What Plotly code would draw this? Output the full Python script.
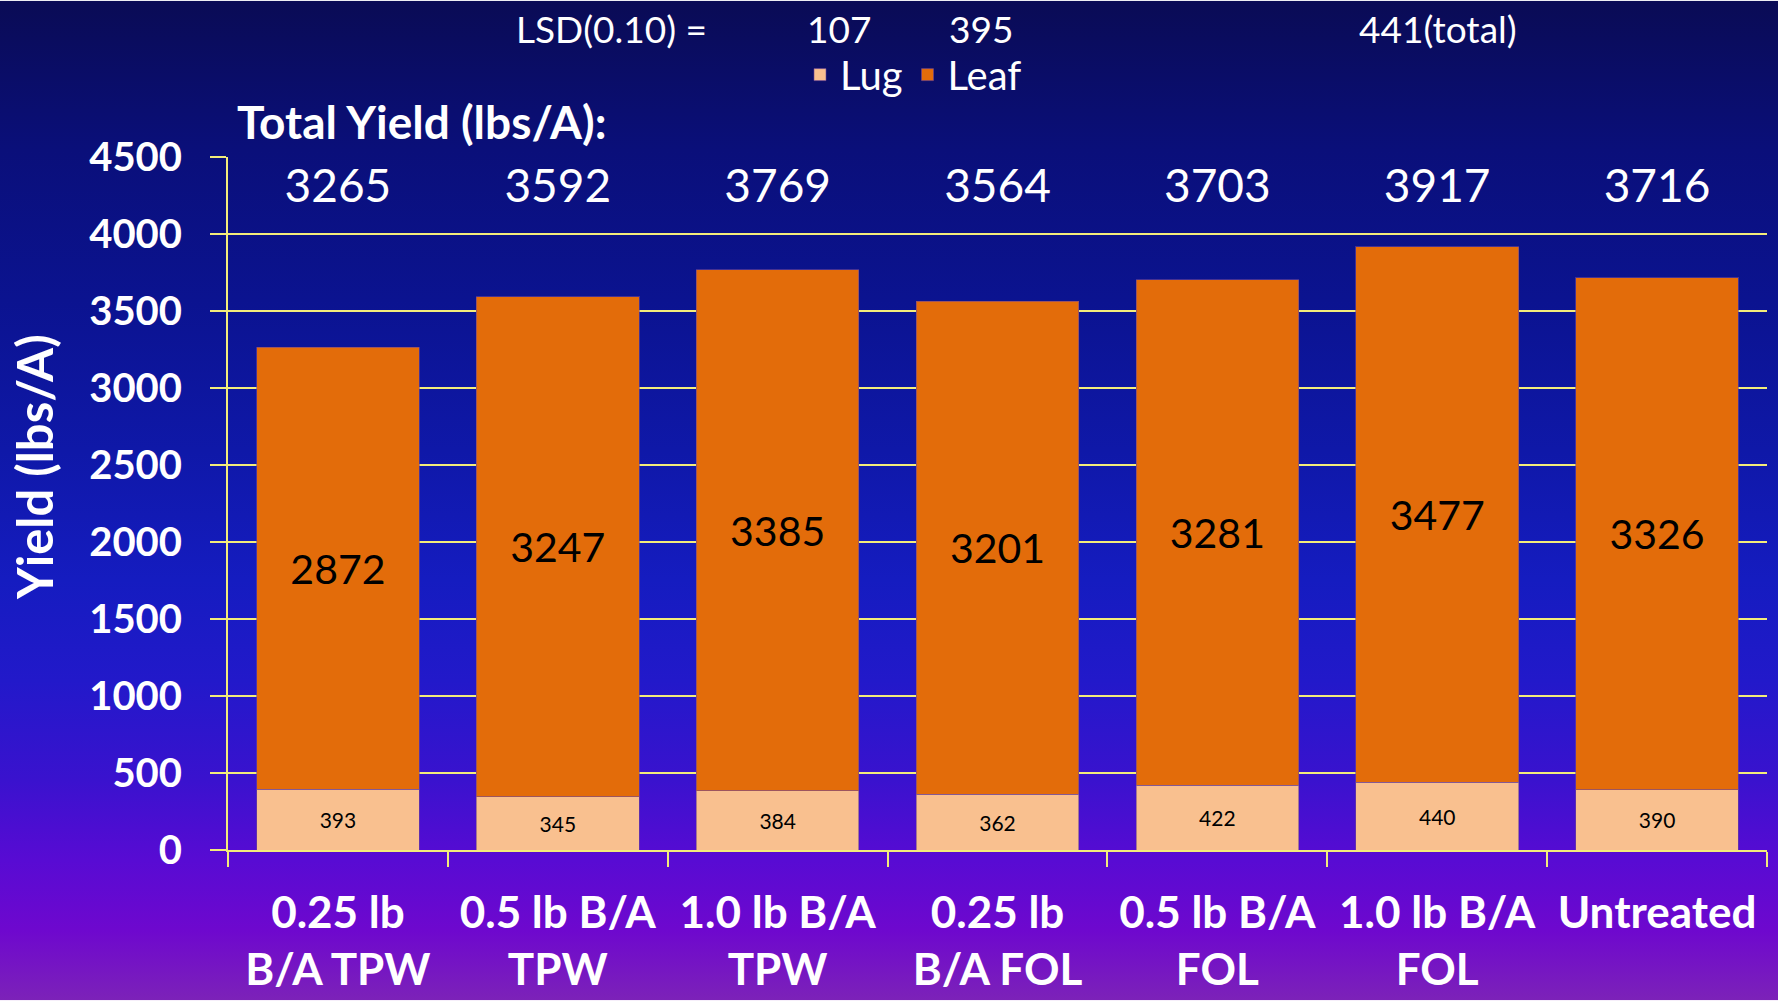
import base64
import plotly.graph_objects as go

# ---------------- data ----------------
categories = ["0.25 lb<br>B/A TPW", "0.5 lb B/A<br>TPW", "1.0 lb B/A<br>TPW",
              "0.25 lb<br>B/A FOL", "0.5 lb B/A<br>FOL", "1.0 lb B/A<br>FOL", "Untreated"]
lug = [393, 345, 384, 362, 422, 440, 390]
leaf = [2872, 3247, 3385, 3201, 3281, 3477, 3326]
total = [3265, 3592, 3769, 3564, 3703, 3917, 3716]
lsd_labels = ["LSD(0.10) =", "107", "395", "441(total)"]
y_ticks = [0, 500, 1000, 1500, 2000, 2500, 3000, 3500, 4000, 4500]

# ---------------- geometry ----------------
W, H = 1778, 1001
L, R, T, B = 228, 11, 156.5, 150.5
pw, ph = W - L - R, H - T - B
YMAX = 4500

FONT = "Lato"
WHITE = "#FFFFFF"
GRID = "#F3EC7A"
LUG_C = "#F9C08F"
LEAF_C = "#E36C0A"

def px_to_py(y):  # page pixel -> paper y
    return (H - B - y) / ph

def px_to_px(x):  # page pixel -> paper x
    return (x - L) / pw

def px_to_data(y):
    return (H - B - y) / ph * YMAX

# gradient background as inline svg
stops = [(0.00, "#0A0B55"), (0.15, "#0A0F7A"), (0.30, "#0B1390"), (0.45, "#0F18A8"),
         (0.58, "#151CC0"), (0.68, "#2219CA"), (0.78, "#3A12CE"), (0.86, "#580BD3"),
         (0.93, "#6E08CE"), (1.00, "#7C22B8")]
stop_xml = "".join(f"<stop offset='{o}' stop-color='{c}'/>" for o, c in stops)
svg = (f"<svg xmlns='http://www.w3.org/2000/svg' width='{W}' height='{H}' "
       f"viewBox='0 0 {W} {H}' preserveAspectRatio='none'><defs>"
       f"<linearGradient id='g' x1='0' y1='0' x2='0' y2='1'>{stop_xml}</linearGradient>"
       f"</defs><rect x='0' y='0' width='{W}' height='{H}' fill='url(#g)'/></svg>")
src = "data:image/svg+xml;base64," + base64.b64encode(svg.encode()).decode()

fig = go.Figure()

fig.add_trace(go.Bar(
    name="Lug", x=categories, y=lug, marker=dict(color=LUG_C, line=dict(color="rgba(110,70,150,0.6)", width=1)),
    text=[str(v) for v in lug], textposition="inside", insidetextanchor="middle", textangle=0,
    insidetextfont=dict(family=FONT, size=21, color="#000000"), hoverinfo="x+y"))
fig.add_trace(go.Bar(
    name="Leaf", x=categories, y=leaf, marker=dict(color=LEAF_C, line=dict(color="rgba(110,70,150,0.6)", width=1)),
    text=[str(v) for v in leaf], textposition="inside", insidetextanchor="middle", textangle=0,
    insidetextfont=dict(family=FONT, size=41, color="#000000"), hoverinfo="x+y"))

# totals row
fig.add_trace(go.Scatter(
    x=categories, y=[px_to_data(190)] * len(categories), mode="text",
    text=[str(v) for v in total], textposition="middle center",
    textfont=dict(family=FONT, size=46, color=WHITE), showlegend=False, hoverinfo="skip"))

annotations = [
    dict(text="Total Yield (lbs/A):", xref="paper", yref="paper", x=px_to_px(235), y=px_to_py(121),
         xanchor="left", yanchor="middle", showarrow=False,
         font=dict(family=FONT, size=46, color=WHITE, weight="bold")),
    dict(text="Yield (lbs/A)", xref="paper", yref="paper", x=px_to_px(34), y=px_to_py(467),
         xanchor="center", yanchor="middle", textangle=-90, showarrow=False,
         font=dict(family=FONT, size=49, color=WHITE, weight="bold")),
]
lsd_x = [611, 839, 981, 1438]
for t, xc in zip(lsd_labels, lsd_x):
    annotations.append(dict(text=t, xref="paper", yref="paper", x=px_to_px(xc), y=px_to_py(28),
                            xanchor="center", yanchor="middle", showarrow=False,
                            font=dict(family=FONT, size=37, color=WHITE)))

fig.update_layout(
    width=W, height=H,
    margin=dict(l=L, r=R, t=T, b=B, autoexpand=False),
    barmode="stack", bargap=0.26,
    paper_bgcolor="rgba(0,0,0,0)", plot_bgcolor="rgba(0,0,0,0)",
    font=dict(family=FONT, color=WHITE),
    showlegend=True,
    legend=dict(orientation="h", x=px_to_px(800), y=px_to_py(74), xanchor="left", yanchor="middle",
                font=dict(family=FONT, size=40, color=WHITE), bgcolor="rgba(0,0,0,0)",
                traceorder="normal", itemwidth=30),
    annotations=annotations,
    images=[dict(source=src, xref="paper", yref="paper", x=-L / pw, y=1 + T / ph,
                 sizex=W / pw, sizey=H / ph, xanchor="left", yanchor="top",
                 sizing="stretch", layer="below")],
    xaxis=dict(showgrid=False, showline=True, linecolor=GRID, linewidth=2,
               ticks="outside", tickson="boundaries", ticklen=15, tickwidth=2, tickcolor=GRID,
               tickfont=dict(family=FONT, size=44, color=WHITE, weight="bold"),
               ticklabelstandoff=23, fixedrange=True),
    yaxis=dict(range=[0, YMAX], tickvals=y_ticks, showgrid=True, gridcolor=GRID, gridwidth=2,
               showline=True, linecolor=GRID, linewidth=2, zeroline=False,
               ticks="outside", ticklen=16, tickwidth=2, tickcolor=GRID,
               tickfont=dict(family=FONT, size=40, color=WHITE, weight="bold"),
               ticklabelstandoff=20, fixedrange=True),
)

fig.write_html("out.html", config={"displayModeBar": False},
               post_script="document.body.style.margin='0';document.body.style.overflow='hidden';")
